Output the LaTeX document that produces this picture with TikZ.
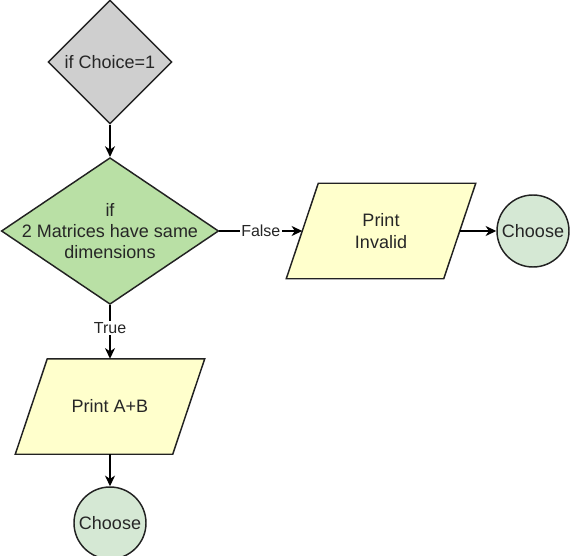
\documentclass[tikz,border=0pt]{standalone}
\usepackage{fontspec}
\setmainfont{Liberation Sans}
\usetikzlibrary{shapes.geometric,arrows.meta}
\pgfdeclarelayer{background}
\pgfsetlayers{background,main}
\definecolor{decgray}{HTML}{CFCFCF}
\definecolor{decgreen}{HTML}{B9E0A5}
\definecolor{ioyellow}{HTML}{FFFFCC}
\definecolor{endgreen}{HTML}{D5E8D4}
\definecolor{edge}{HTML}{222222}
\definecolor{ink}{HTML}{262626}
\tikzset{
  base/.style={draw=edge, line width=1.1pt, inner sep=0pt, text=ink,
    font=\fontsize{13.5pt}{16pt}\selectfont, align=center},
  decision/.style={base, diamond},
  % text frame of an input/output box; the slanted outline is drawn behind it
  iobox/.style={base, draw=none, rectangle, minimum width=117pt,
    minimum height=70.5pt},
  ioshape/.style={draw=edge, line width=1.1pt, fill=ioyellow, line join=miter},
  endcircle/.style={base, circle, fill=endgreen, minimum size=54pt},
  flow/.style={draw=black, line width=1.1pt,
    -{Stealth[length=8pt,width=7.5pt,inset=2.5pt]}},
  edgelabel/.style={fill=white, inner sep=1pt, text=ink,
    font=\fontsize{12pt}{14pt}\selectfont},
}
% parallelogram around a node, slanted by #2 on each side
\newcommand{\ioframe}[2]{%
  \begin{pgfonlayer}{background}
    \path[ioshape] ([xshift=#2]#1.north west) -- ([xshift=#2]#1.north east)
      -- ([xshift=-#2]#1.south east) -- ([xshift=-#2]#1.south west) -- cycle;
  \end{pgfonlayer}}
\begin{document}
\begin{tikzpicture}[x=0.75pt,y=-0.75pt]
  \useasboundingbox (0,0) rectangle (571,556);

  % decisions
  \node[decision, fill=decgray, minimum width=93pt, minimum height=93pt]
    (choice) at (110,62) {};
  \node[base, draw=none] (choicetext) at (choice) {if Choice=1};

  \node[decision, fill=decgreen, minimum width=163pt, minimum height=110pt]
    (dims) at (110,231) {};
  \node[base, draw=none] (dimstext) at (dims) {if\\2 Matrices have same\\dimensions};

  % outputs
  \node[iobox] (invalid) at (381,231) {Print\\Invalid};
  \ioframe{invalid}{12pt}
  \node[iobox] (sum) at (110,406.5) {Print A+B};
  \ioframe{sum}{12pt}

  % terminals
  \node[endcircle] (endright) at (533,231) {Choose};
  \node[endcircle] (endbottom) at (110,523) {Choose};

  % connectors
  \draw[flow] (choice.south) -- (dims.north);
  \draw[flow] (dims.east) -- node[edgelabel] {False} (invalid.west);
  \draw[flow] ([xshift=0pt]invalid.east) -- (endright.west);
  \draw[flow] (dims.south) -- node[edgelabel, pos=0.42] {True} (sum.north);
  \draw[flow] (sum.south) -- (endbottom.north);
\end{tikzpicture}
\end{document}
